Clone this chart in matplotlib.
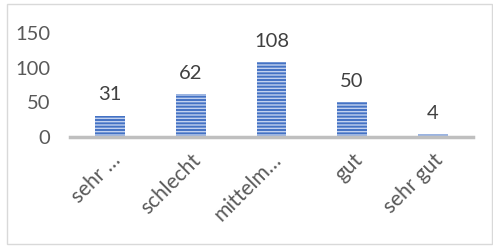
import matplotlib.pyplot as plt
from matplotlib.patches import Rectangle

categories = ['sehr …', 'schlecht', 'mittelm…', 'gut', 'sehr gut']
values = [31, 62, 108, 50, 4]
yticks = [0, 50, 100, 150]

plt.rcParams['font.family'] = ['Lato', 'DejaVu Sans']
plt.rcParams['hatch.color'] = '#c2d1ef'
plt.rcParams['hatch.linewidth'] = 1.0

W, H = 493, 246
fig = plt.figure(figsize=(W / 100, H / 100), dpi=100)
ax = fig.add_axes([70 / W, (H - 137) / H, 403 / W, 104 / H])

x = list(range(len(categories)))
bars = ax.bar(x, values, width=0.37, color='#4472C4', hatch='-----', linewidth=0)

for xi, v in zip(x, values):
    ax.annotate(str(v), (xi, v), xytext=(0, 9), textcoords='offset points',
                ha='center', va='bottom', fontsize=14.5, color='#404040', annotation_clip=False)

ax.set_xlim(-0.5, len(categories) - 0.5)
ax.set_ylim(0, 150)
ax.set_yticks(yticks)
ax.set_xticks(x)
ax.set_xticklabels(categories, rotation=45, ha='right', rotation_mode='anchor', fontsize=15)
ax.tick_params(axis='both', length=0, labelcolor='#595959')
ax.tick_params(axis='y', labelsize=14.5, pad=14)
ax.tick_params(axis='x', pad=9)

for s in ['top', 'right', 'left']:
    ax.spines[s].set_visible(False)
ax.spines['bottom'].set_color('#BFBFBF')
ax.spines['bottom'].set_linewidth(2.5)

fig.patches.append(Rectangle((7 / W, 2 / H), 485 / W, 240 / H, transform=fig.transFigure,
                             fill=False, edgecolor='#D9D9D9', linewidth=1))

fig.savefig('out.png', dpi=100)
